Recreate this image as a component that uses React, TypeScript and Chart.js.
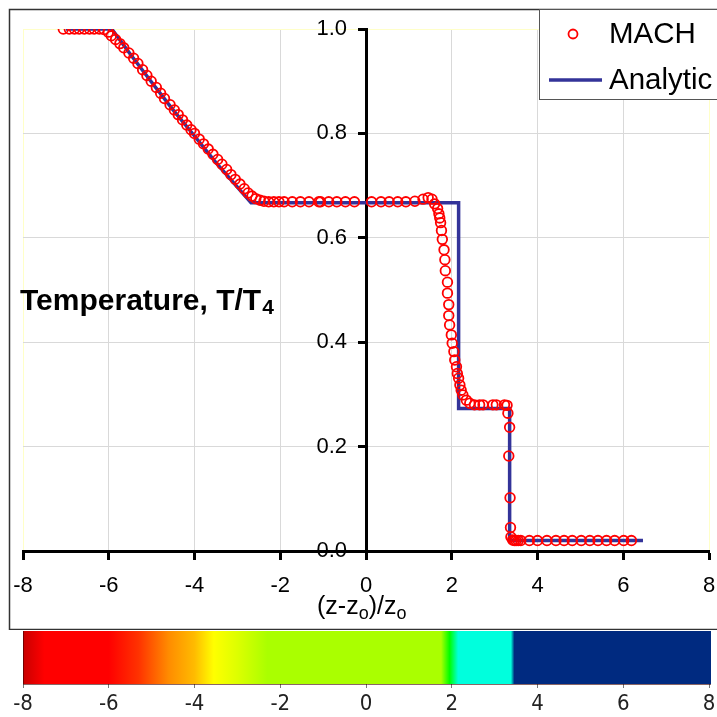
import React, { useEffect, useRef } from 'react';
import { Chart, registerables } from 'chart.js';

Chart.register(...registerables);

// ---- data ----
const machZ = [
  -7.06, -6.92, -6.80, -6.69, -6.57, -6.45, -6.34, -6.22, -6.11, -6.01,
  -5.94, -5.84, -5.74, -5.65, -5.53, -5.42, -5.32, -5.21, -5.11, -5.01,
  -4.89, -4.79, -4.70, -4.57, -4.47, -4.38, -4.28, -4.18, -4.08, -4.00,
  -3.89, -3.79, -3.68, -3.57, -3.46, -3.36, -3.25, -3.15, -3.05, -2.94,
  -2.84, -2.75, -2.66, -2.57, -2.47, -2.38, -2.27, -2.15, -2.03, -1.91,
  -1.72, -1.53, -1.33, -1.10, -1.06, -0.87, -0.68, -0.48, -0.27, 0.13,
  0.35, 0.54, 0.74, 0.93, 1.14, 1.33, 1.45, 1.54, 1.60, 1.67,
  1.70, 1.72, 1.74, 1.76, 1.78, 1.82, 1.84, 1.85, 1.90, 1.90,
  1.93, 1.93, 1.95, 1.99, 2.01, 2.05, 2.07, 2.11, 2.13, 2.16,
  2.19, 2.22, 2.26, 2.34, 2.42, 2.53, 2.65, 2.73, 2.96, 3.04,
  3.23, 3.29, 3.31, 3.35, 3.33, 3.36, 3.37, 3.38, 3.42, 3.46,
  3.50, 3.55, 3.61, 3.81, 4.00, 4.22, 4.43, 4.62, 4.81, 5.02,
  5.22, 5.41, 5.61, 5.80, 6.01, 6.19,
];
const machT = [
  1.0, 1.0, 1.0, 1.0, 1.0, 1.0, 1.0, 1.0, 0.999, 0.994,
  0.987, 0.980, 0.972, 0.964, 0.954, 0.944, 0.934, 0.922, 0.911, 0.900,
  0.888, 0.877, 0.867, 0.855, 0.845, 0.836, 0.826, 0.816, 0.807, 0.800,
  0.789, 0.780, 0.770, 0.760, 0.750, 0.741, 0.731, 0.721, 0.712, 0.703,
  0.694, 0.686, 0.680, 0.675, 0.672, 0.670, 0.669, 0.669, 0.669, 0.669,
  0.669, 0.669, 0.669, 0.669, 0.669, 0.669, 0.669, 0.669, 0.669, 0.669,
  0.669, 0.669, 0.669, 0.669, 0.670, 0.674, 0.677, 0.674, 0.665, 0.656,
  0.646, 0.638, 0.629, 0.614, 0.597, 0.577, 0.558, 0.537, 0.515, 0.494,
  0.472, 0.451, 0.433, 0.414, 0.398, 0.382, 0.366, 0.353, 0.340, 0.331,
  0.318, 0.308, 0.299, 0.289, 0.283, 0.280, 0.280, 0.280, 0.280, 0.280,
  0.280, 0.279, 0.264, 0.237, 0.182, 0.102, 0.045, 0.027, 0.021, 0.020,
  0.020, 0.020, 0.020, 0.020, 0.020, 0.020, 0.020, 0.020, 0.020, 0.020,
  0.020, 0.020, 0.020, 0.020, 0.020, 0.020,
];
const analyticZ = [-7.0, -5.93, -5.5, -5.0, -4.5, -4.0, -3.5, -3.0, -2.68, 2.16, 2.16, 3.35, 3.35, 6.46];
const analyticT = [1.0, 1.0, 0.952, 0.898, 0.845, 0.795, 0.744, 0.697, 0.667, 0.667, 0.273, 0.273, 0.02, 0.02];

const seriesNames = ['MACH', 'Analytic'];
const xTicks = [-8, -6, -4, -2, 0, 2, 4, 6, 8];
const yTicks = [0, 0.2, 0.4, 0.6, 0.8, 1.0];
const barTicks = [-8, -6, -4, -2, 0, 2, 4, 6, 8];
const barStops = [-8, -7.5, -6.0, -5.3, -4.6, -4.0, -3.55, -3.0, -2.3, 1.75, 1.95, 2.15, 3.38, 3.46, 8];
const barColors = [
  '#c80000', '#ff0000', '#ff0000', '#ff3300', '#ff8c00', '#ffbb00', '#ffff00', '#ddff00',
  '#aaff00', '#aaff00', '#00ff00', '#00ffdd', '#00ffdd', '#002a80', '#002a80',
];

const FONT = '"Liberation Sans", Arial, sans-serif';
const NARROW = '"Liberation Sans Narrow", "DejaVu Sans Condensed", "Liberation Sans", sans-serif';

const framePlugin = {
  id: 'frame',
  beforeDraw(chart: any) {
    const ctx = chart.ctx;
    ctx.save();
    ctx.fillStyle = '#ffffff';
    ctx.fillRect(0, 0, chart.width, chart.height);
    ctx.strokeStyle = '#333333';
    ctx.lineWidth = 1.5;
    ctx.strokeRect(9.5, 9.5, 730, 620);
    ctx.restore();
    // shift y tick labels to the left of the tick marks
    const ys = chart.scales.y;
    if (ys && ys.getLabelItems) {
      const items = ys.getLabelItems();
      if (ys._shifted !== items) {
        items.forEach((it: any) => {
          it.options.translation[0] -= 19;
        });
        ys._shifted = items;
      }
    }
  },
};

const titlesPlugin = {
  id: 'titles',
  afterDraw(chart: any) {
    const ctx = chart.ctx;
    ctx.save();
    ctx.fillStyle = '#000';
    ctx.textBaseline = 'alphabetic';
    ctx.textAlign = 'left';
    // y title
    ctx.font = `bold 30px ${FONT}`;
    const main = 'Temperature, T/T';
    ctx.fillText(main, 20, 310);
    const w = ctx.measureText(main).width;
    ctx.font = `bold 21px ${FONT}`;
    ctx.fillText('4', 20 + w + 1, 314);
    // x title
    const parts: [string, number, number][] = [
      ['(z-z', 25, 0],
      ['o', 18, 5],
      [')/z', 25, 0],
      ['o', 18, 5],
    ];
    let x = 317;
    for (const [t, s, dy] of parts) {
      ctx.font = `${s}px ${FONT}`;
      ctx.fillText(t, x, 614 + dy);
      x += ctx.measureText(t).width;
    }
    ctx.restore();
  },
};

const legendPlugin = {
  id: 'customLegend',
  afterDraw(chart: any) {
    const ctx = chart.ctx;
    const ds = chart.data.datasets;
    ctx.save();
    ctx.fillStyle = '#ffffff';
    ctx.fillRect(539.5, 9.5, 200, 90);
    ctx.strokeStyle = '#555555';
    ctx.lineWidth = 1;
    ctx.strokeRect(539.5, 9.5, 200, 90);
    // MACH
    ctx.beginPath();
    ctx.arc(573, 34, 4.5, 0, Math.PI * 2);
    ctx.strokeStyle = ds[0].pointBorderColor;
    ctx.lineWidth = ds[0].pointBorderWidth;
    ctx.stroke();
    // Analytic
    ctx.beginPath();
    ctx.moveTo(549, 80);
    ctx.lineTo(602, 80);
    ctx.strokeStyle = ds[1].borderColor;
    ctx.lineWidth = ds[1].borderWidth;
    ctx.stroke();
    ctx.fillStyle = '#000';
    ctx.font = `29.5px ${FONT}`;
    ctx.textBaseline = 'middle';
    ctx.textAlign = 'left';
    ctx.fillText(ds[0].label, 609, 35);
    ctx.fillText(ds[1].label, 609, 81);
    ctx.restore();
  },
};

const colorbarPlugin = {
  id: 'colorbar',
  beforeDatasetsDraw(chart: any) {
    const { ctx, chartArea, scales } = chart;
    const xs = scales.x;
    const x0 = xs.getPixelForValue(barStops[0]);
    const x1 = xs.getPixelForValue(barStops[barStops.length - 1]);
    const g = ctx.createLinearGradient(x0, 0, x1, 0);
    barStops.forEach((v: number, i: number) => {
      const p = (xs.getPixelForValue(v) - x0) / (x1 - x0);
      g.addColorStop(Math.min(1, Math.max(0, p)), barColors[i]);
    });
    ctx.save();
    ctx.fillStyle = g;
    ctx.fillRect(x0, chartArea.top, x1 - x0 + 2, chartArea.bottom - chartArea.top);
    ctx.strokeStyle = 'rgba(60,0,0,0.6)';
    ctx.lineWidth = 1;
    ctx.beginPath();
    ctx.moveTo(x0 + 0.5, chartArea.top);
    ctx.lineTo(x0 + 0.5, chartArea.bottom + 0.5);
    ctx.lineTo(x1 + 2, chartArea.bottom + 0.5);
    ctx.stroke();
    ctx.restore();
  },
};

const zeroPad = (s: any) => {
  s.paddingLeft = 0;
  s.paddingRight = 0;
  s.paddingTop = 0;
  s.paddingBottom = 0;
};

export default function App() {
  const mainRef = useRef<HTMLCanvasElement | null>(null);
  const barRef = useRef<HTMLCanvasElement | null>(null);

  useEffect(() => {
    const gridColor = (v: number, edge: number[]) =>
      edge.includes(v) ? '#ffffc8' : '#d9d9d9';

    const main = new Chart(mainRef.current as HTMLCanvasElement, {
      type: 'scatter',
      data: {
        datasets: [
          {
            label: seriesNames[0],
            data: machZ.map((x, i) => ({ x, y: machT[i] })),
            showLine: false,
            pointStyle: 'circle',
            pointRadius: 4.8,
            pointBorderColor: '#ff0000',
            pointBackgroundColor: 'rgba(0,0,0,0)',
            pointBorderWidth: 1.8,
            borderColor: '#ff0000',
            backgroundColor: 'rgba(0,0,0,0)',
          } as any,
          {
            label: seriesNames[1],
            data: analyticZ.map((x, i) => ({ x, y: analyticT[i] })),
            showLine: true,
            pointRadius: 0,
            borderColor: '#333399',
            borderWidth: 3.5,
            backgroundColor: '#333399',
            fill: false,
            tension: 0,
          } as any,
        ],
      },
      options: {
        responsive: false,
        animation: false,
        devicePixelRatio: 1,
        layout: { padding: { left: 23, top: 29, right: 8, bottom: 79 } },
        plugins: {
          legend: { display: false },
          tooltip: { enabled: false },
          title: { display: false },
        },
        scales: {
          x: {
            type: 'linear',
            min: -8,
            max: 8,
            position: { y: 0 } as any,
            afterBuildTicks: (axis: any) => {
              axis.ticks = xTicks.map((v) => ({ value: v }));
            },
            afterFit: zeroPad,
            ticks: {
              color: '#000',
              font: { family: FONT, size: 22 },
              padding: 15,
              callback: (v: any) => String(v),
            },
            grid: {
              color: (c: any) => gridColor(c.tick?.value, [-8, 8]),
              lineWidth: 1,
              tickColor: '#000',
              tickWidth: 3,
              tickLength: 7,
            },
            border: { color: '#000', width: 3 },
          },
          y: {
            type: 'linear',
            min: 0,
            max: 1,
            position: { x: 0 } as any,
            afterBuildTicks: (axis: any) => {
              axis.ticks = yTicks.map((v) => ({ value: v }));
            },
            afterFit: zeroPad,
            ticks: {
              color: '#000',
              font: { family: FONT, size: 22 },
              padding: 12,
              callback: (v: any) => Number(v).toFixed(1),
            },
            grid: {
              color: (c: any) => gridColor(c.tick?.value, [1]),
              lineWidth: 1,
              tickColor: '#000',
              tickWidth: 3,
              tickLength: 7,
            },
            border: { color: '#000', width: 3 },
          },
        },
      } as any,
      plugins: [framePlugin, titlesPlugin, legendPlugin],
    });

    const bar = new Chart(barRef.current as HTMLCanvasElement, {
      type: 'scatter',
      data: { datasets: [{ label: 'bar', data: [], pointRadius: 0 }] },
      options: {
        responsive: false,
        animation: false,
        devicePixelRatio: 1,
        layout: { padding: { left: 23, top: 1, right: 8, bottom: 33 } },
        plugins: { legend: { display: false }, tooltip: { enabled: false } },
        scales: {
          x: {
            type: 'linear',
            min: -8,
            max: 8,
            position: { y: 0 } as any,
            afterBuildTicks: (axis: any) => {
              axis.ticks = barTicks.map((v) => ({ value: v }));
            },
            afterFit: zeroPad,
            ticks: {
              color: '#222',
              font: { family: NARROW, size: 22 },
              padding: 3,
              callback: (v: any) => String(v),
            },
            grid: {
              drawOnChartArea: false,
              tickColor: '#777',
              tickWidth: 1,
              tickLength: 4,
            },
            border: { display: false },
          },
          y: { type: 'linear', min: 0, max: 1, display: false },
        },
      } as any,
      plugins: [colorbarPlugin],
    });

    return () => {
      main.destroy();
      bar.destroy();
    };
  }, []);

  return (
    <div style={{ position: 'fixed', left: 0, top: 0, width: 717, height: 717, background: '#fff' }}>
      <canvas
        ref={mainRef}
        width={717}
        height={630}
        style={{ position: 'absolute', left: 0, top: 0, width: 717, height: 630 }}
      />
      <canvas
        ref={barRef}
        width={717}
        height={87}
        style={{ position: 'absolute', left: 0, top: 630, width: 717, height: 87 }}
      />
    </div>
  );
}
